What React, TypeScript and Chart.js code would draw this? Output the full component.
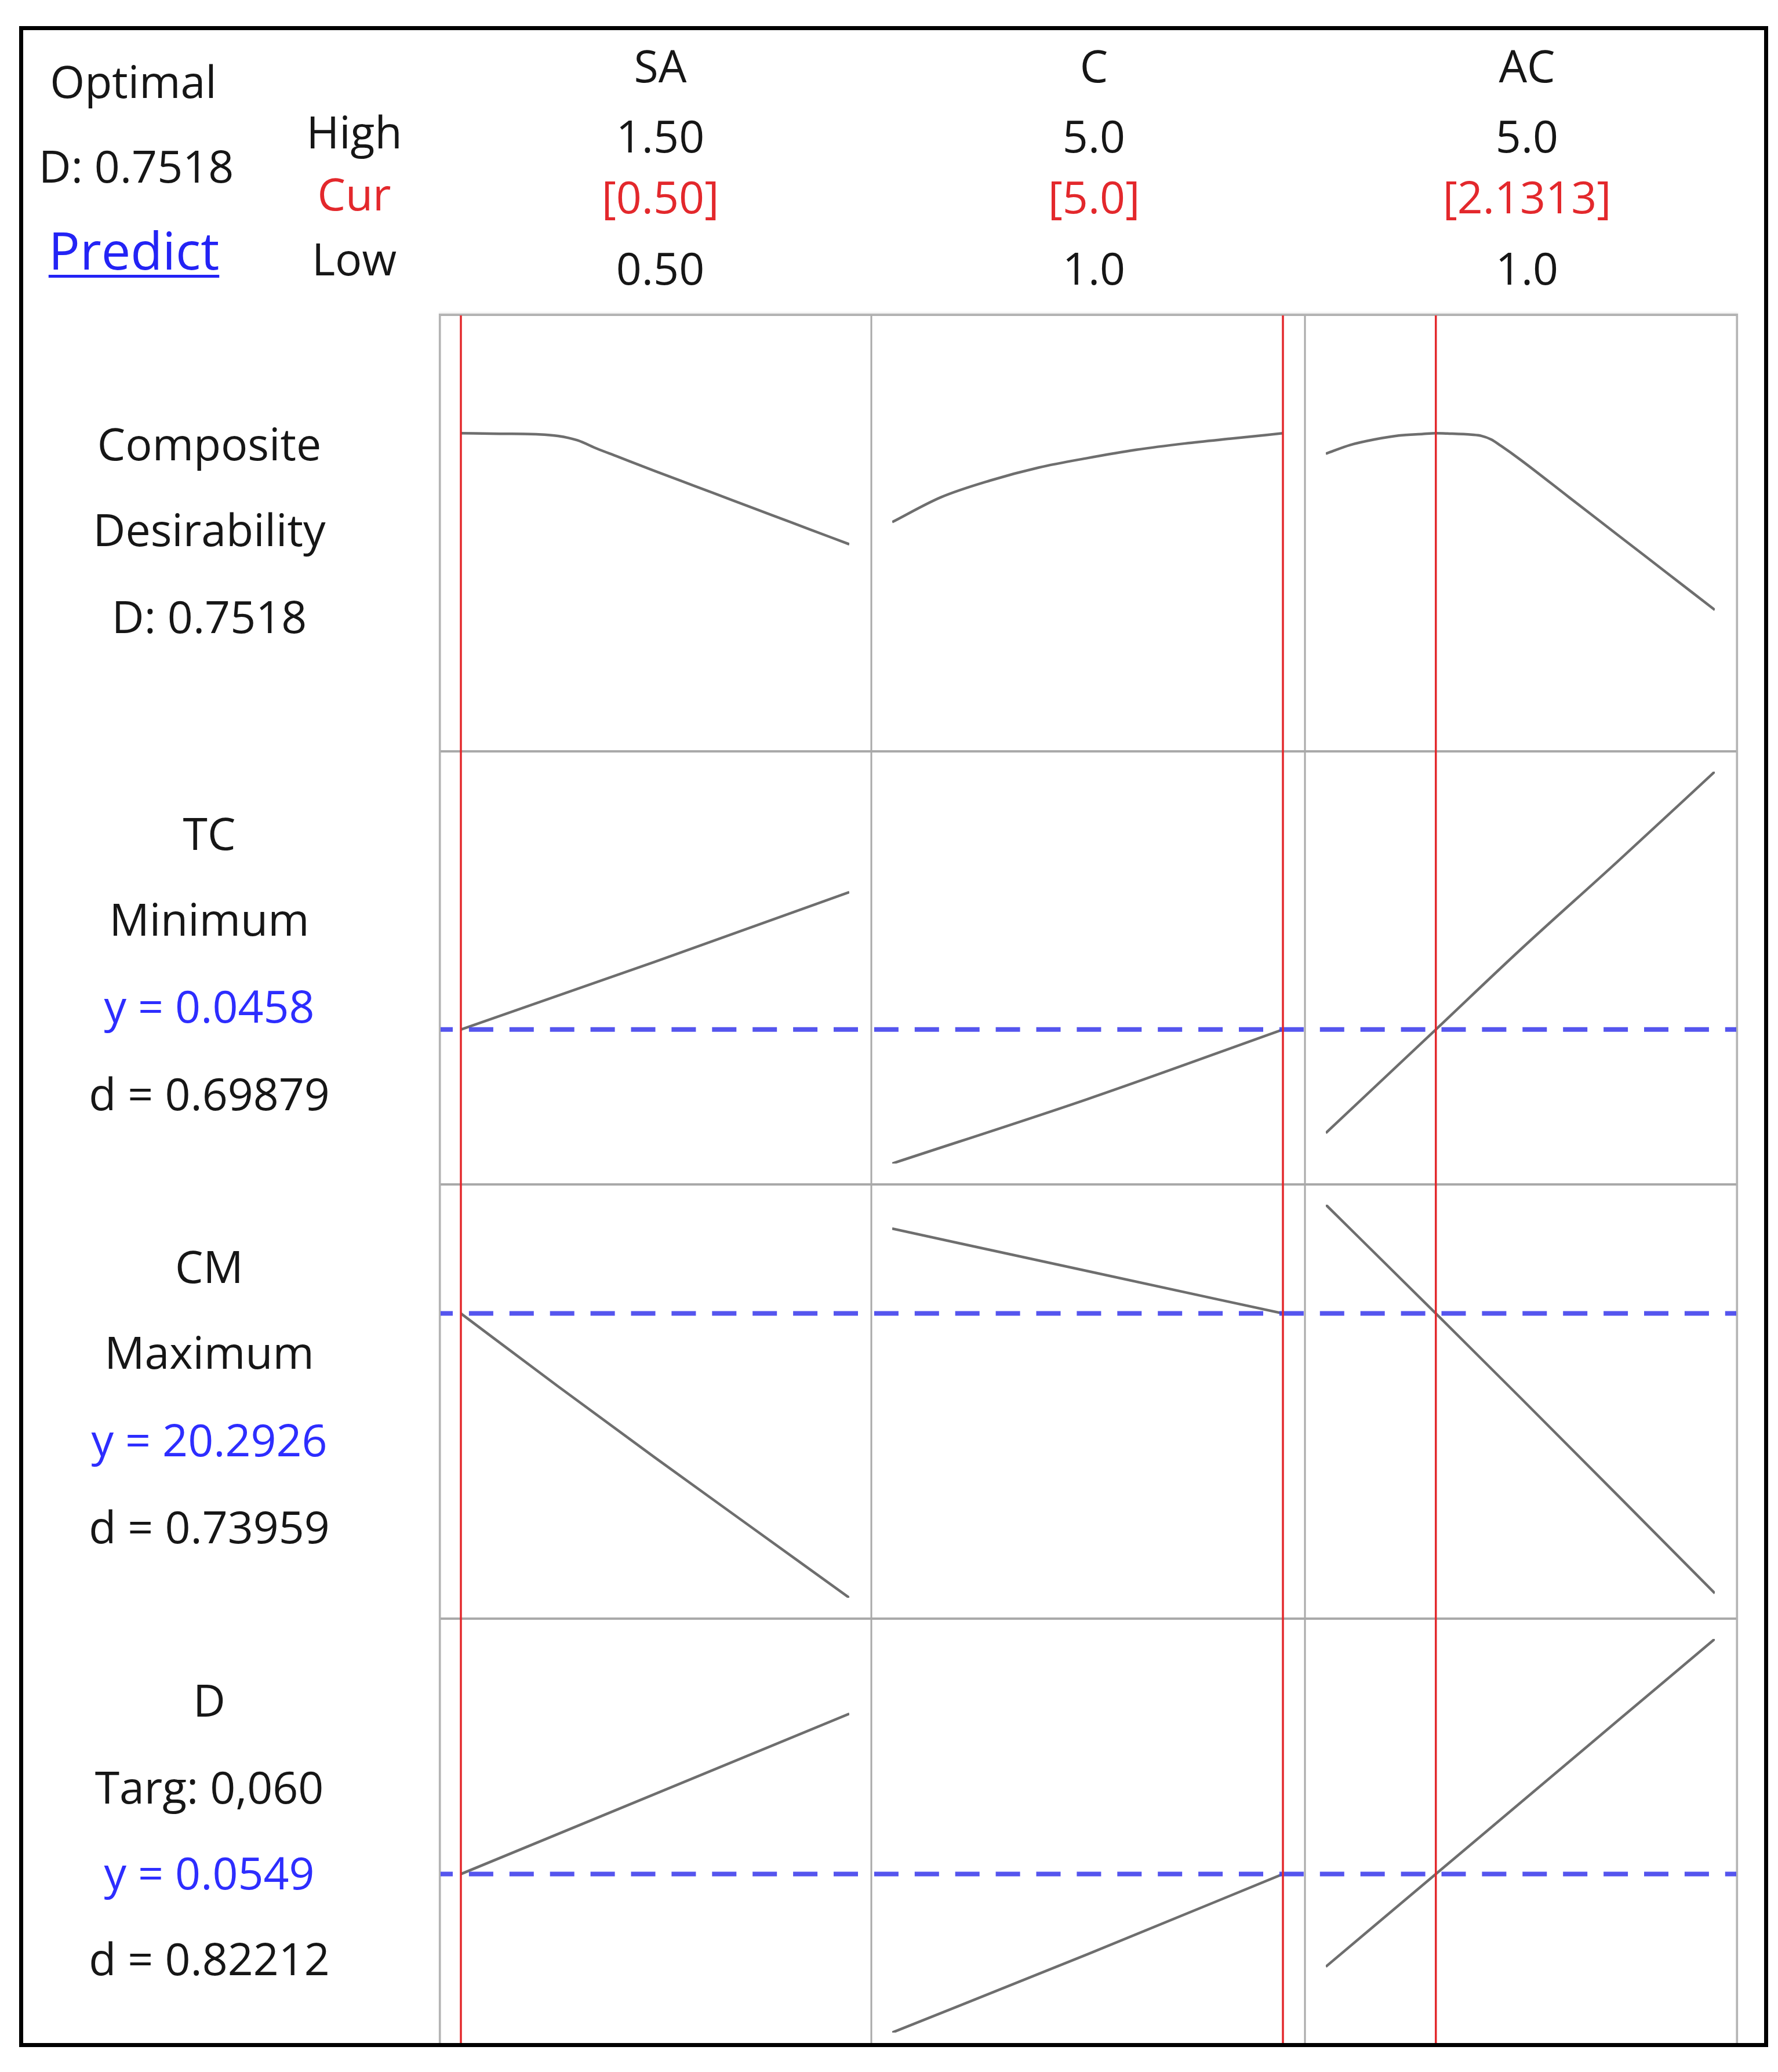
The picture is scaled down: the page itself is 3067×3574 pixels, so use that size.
import React, { useEffect, useRef } from 'react';
import { Chart, registerables } from 'chart.js';

Chart.register(...registerables);

// ---------- factor (column) data ----------
const factorNames = ['SA', 'C', 'AC'];
const factorHighLabels = ['1.50', '5.0', '5.0'];
const factorCurLabels = ['[0.50]', '[5.0]', '[2.1313]'];
const factorLowLabels = ['0.50', '1.0', '1.0'];
const factorLow = [0.5, 1.0, 1.0];
const factorHigh = [1.5, 5.0, 5.0];
const factorCurrent = [0.5, 5.0, 2.1313];

// ---------- Composite desirability row ----------
const compX_SA = [0.5, 0.6, 0.7, 0.75, 0.8, 0.85, 0.9, 1.0, 1.1, 1.2, 1.3, 1.4, 1.5];
const compY_SA = [0.7518, 0.7505, 0.749, 0.745, 0.734, 0.713, 0.694, 0.656, 0.619, 0.582, 0.545, 0.508, 0.471];
const compX_C = [1.0, 1.5, 2.0, 2.5, 3.0, 3.5, 4.0, 4.5, 5.0];
const compY_C = [0.527, 0.59, 0.632, 0.665, 0.689, 0.71, 0.726, 0.739, 0.7518];
const compX_AC = [1.0, 1.25, 1.5, 1.75, 2.0, 2.1313, 2.25, 2.5, 2.6, 2.7, 2.8, 3.0, 3.5, 4.0, 4.5, 5.0];
const compY_AC = [0.7, 0.722, 0.736, 0.746, 0.75, 0.7518, 0.751, 0.748, 0.745, 0.736, 0.72, 0.685, 0.59, 0.495, 0.4, 0.305];

// ---------- TC row ----------
const tcX_SA = [0.5, 1.0, 1.5];
const tcY_SA = [0.0458, 0.0498, 0.0539];
const tcX_C = [1.0, 3.0, 5.0];
const tcY_C = [0.0379, 0.0417, 0.0458];
const tcX_AC = [1.0, 2.1313, 3.0, 4.0, 5.0];
const tcY_AC = [0.0397, 0.0458, 0.0505, 0.0557, 0.061];

// ---------- CM row ----------
const cmX_SA = [0.5, 0.75, 1.0, 1.25, 1.5];
const cmY_SA = [20.2926, 18.68, 17.1, 15.55, 14.0];
const cmX_C = [1.0, 3.0, 5.0];
const cmY_C = [22.17, 21.23, 20.2926];
const cmX_AC = [1.0, 2.1313, 3.0, 4.0, 5.0];
const cmY_AC = [22.7, 20.2926, 18.43, 16.27, 14.1];

// ---------- D row ----------
const dX_SA = [0.5, 1.0, 1.5];
const dY_SA = [0.0549, 0.0594, 0.0639];
const dX_C = [1.0, 3.0, 5.0];
const dY_C = [0.046, 0.0504, 0.0549];
const dX_AC = [1.0, 2.1313, 3.0, 4.0, 5.0];
const dY_AC = [0.0497, 0.0549, 0.0589, 0.0635, 0.0681];

// current response values (blue dashed lines)
const responseCurrent = [null, 0.0458, 20.2926, 0.0549];

// row label texts
const rowLabels = [
  ['Composite', 'Desirability', 'D: 0.7518'],
  ['TC', 'Minimum', 'y = 0.0458', 'd = 0.69879'],
  ['CM', 'Maximum', 'y = 20.2926', 'd = 0.73959'],
  ['D', 'Targ: 0,060', 'y = 0.0549', 'd = 0.82212'],
];

const headerLeft = ['Optimal', 'D: 0.7518', 'Predict'];
const headerRowNames = ['High', 'Cur', 'Low'];

const rowCurves = [
  [[compX_SA, compY_SA], [compX_C, compY_C], [compX_AC, compY_AC]],
  [[tcX_SA, tcY_SA], [tcX_C, tcY_C], [tcX_AC, tcY_AC]],
  [[cmX_SA, cmY_SA], [cmX_C, cmY_C], [cmX_AC, cmY_AC]],
  [[dX_SA, dY_SA], [dX_C, dY_C], [dX_AC, dY_AC]],
];

// ---------- layout (pixels) ----------
const COL_EDGES = [759, 1503, 2251, 2996];
const ROW_EDGES = [543, 1296, 2043, 2792, 3542];
const CLIP_BOTTOM = 3524;
const PAD = { left: 36, right: 38, top: 35, bottom: 36 };
const FONT = "'Open Sans', 'Noto Sans', 'DejaVu Sans', sans-serif";
const FONT_SIZE = 77;
const TEXT_COLOR = '#161616';
const RED = '#e3282c';
const BLUE_TEXT = '#2d2dff';
const DASH = [42, 27.9];

function rowRange(r: number): [number, number] {
  if (r === 0) return [0, 1];
  let lo = Infinity;
  let hi = -Infinity;
  for (const [, ys] of rowCurves[r]) {
    for (const v of ys) {
      lo = Math.min(lo, v);
      hi = Math.max(hi, v);
    }
  }
  return [lo, hi];
}

function Cell({ r, c }: { r: number; c: number }) {
  const ref = useRef<HTMLCanvasElement | null>(null);
  const left = COL_EDGES[c];
  const top = ROW_EDGES[r];
  const width = COL_EDGES[c + 1] - COL_EDGES[c];
  const height = ROW_EDGES[r + 1] - ROW_EDGES[r];

  useEffect(() => {
    const canvas = ref.current;
    if (!canvas) return;
    const [xs, ys] = rowCurves[r][c];
    const [yMin, yMax] = rowRange(r);
    const xCur = factorCurrent[c];
    const yCur = responseCurrent[r];
    const dashOffset = left - COL_EDGES[0] + 20;

    const cellPlugin = {
      id: 'cellDecor',
      beforeDatasetsDraw(chart: any) {
        const { ctx, width: w, height: h } = chart;
        ctx.save();
        ctx.strokeStyle = '#a9a9a9';
        ctx.lineWidth = 3;
        ctx.beginPath();
        ctx.moveTo(0, 0);
        ctx.lineTo(0, h);
        ctx.moveTo(w, 0);
        ctx.lineTo(w, h);
        ctx.stroke();
        ctx.lineWidth = 4;
        ctx.beginPath();
        ctx.moveTo(0, 0);
        ctx.lineTo(w, 0);
        ctx.moveTo(0, h);
        ctx.lineTo(w, h);
        ctx.stroke();
        ctx.restore();
      },
      afterDatasetsDraw(chart: any) {
        const { ctx, width: w, height: h } = chart;
        const xs2 = chart.scales.x;
        const ys2 = chart.scales.y;
        ctx.save();
        if (yCur !== null && yCur !== undefined) {
          const py = ys2.getPixelForValue(yCur);
          ctx.strokeStyle = 'rgba(66,66,236,0.9)';
          ctx.lineWidth = 8;
          ctx.setLineDash(DASH);
          ctx.lineDashOffset = dashOffset;
          ctx.beginPath();
          ctx.moveTo(0, py);
          ctx.lineTo(w, py);
          ctx.stroke();
          ctx.setLineDash([]);
        }
        const px = xs2.getPixelForValue(xCur);
        ctx.strokeStyle = RED;
        ctx.lineWidth = 3.5;
        ctx.beginPath();
        ctx.moveTo(px, 0);
        ctx.lineTo(px, h);
        ctx.stroke();
        ctx.restore();
      },
    };

    const chart = new Chart(canvas, {
      type: 'line',
      data: {
        datasets: [
          {
            data: xs.map((x, i) => ({ x, y: ys[i] })),
            borderColor: '#6e6e6e',
            borderWidth: 4.5,
            pointRadius: 0,
            fill: false,
            cubicInterpolationMode: 'monotone',
          } as any,
        ],
      },
      options: {
        responsive: false,
        animation: false,
        devicePixelRatio: 1,
        events: [],
        layout: { padding: PAD },
        plugins: { legend: { display: false }, tooltip: { enabled: false } },
        scales: {
          x: { type: 'linear', min: factorLow[c], max: factorHigh[c], display: false },
          y: { type: 'linear', min: yMin, max: yMax, display: false },
        },
      } as any,
      plugins: [cellPlugin],
    });
    return () => chart.destroy();
  }, [r, c]);

  return (
    <canvas
      ref={ref}
      width={width}
      height={height}
      style={{ position: 'absolute', left, top, width, height }}
    />
  );
}

function Txt({
  x,
  y,
  children,
  color = TEXT_COLOR,
  underline = false,
  size = FONT_SIZE,
}: {
  x: number;
  y: number;
  children: React.ReactNode;
  color?: string;
  underline?: boolean;
  size?: number;
}) {
  return (
    <div
      style={{
        position: 'absolute',
        left: x,
        top: y,
        transform: 'translate(-50%, -50%)',
        fontFamily: FONT,
        fontSize: size,
        fontWeight: 500,
        lineHeight: 1,
        whiteSpace: 'nowrap',
        color,
        textDecoration: underline ? 'underline' : 'none',
        textDecorationThickness: underline ? 5 : undefined,
        textUnderlineOffset: underline ? 9 : undefined,
      }}
    >
      {children}
    </div>
  );
}

const HEADER_LEFT_POS = [
  [230, 139],
  [235, 285],
  [231, 430],
];
const HEADER_NAME_X = 611;
const HEADER_NAME_Y = [226, 333, 445];
const FACTOR_X = [1139, 1887, 2634];
const FACTOR_Y = [112, 233, 338, 461];
const LABEL_X = 361;
const LABEL_Y = [
  [764, 912, 1062],
  [1436, 1584, 1734, 1885],
  [2183, 2331, 2482, 2632],
  [2931, 3081, 3229, 3377],
];

export default function App() {
  const cells: React.ReactElement[] = [];
  for (let r = 0; r < 4; r++) {
    for (let c = 0; c < 3; c++) {
      cells.push(<Cell key={`${r}-${c}`} r={r} c={c} />);
    }
  }
  return (
    <div
      style={{
        position: 'absolute',
        left: 0,
        top: 0,
        width: 3067,
        height: 3574,
        background: '#ffffff',
        overflow: 'hidden',
      }}
    >
      {/* plot area (clipped at the frame bottom) */}
      <div
        style={{
          position: 'absolute',
          left: 0,
          top: 0,
          width: 3067,
          height: CLIP_BOTTOM,
          overflow: 'hidden',
        }}
      >
        {cells}
        <div
          style={{
            position: 'absolute',
            left: COL_EDGES[0] - 2,
            top: ROW_EDGES[0] - 2,
            width: COL_EDGES[3] - COL_EDGES[0] + 4,
            height: ROW_EDGES[4] - ROW_EDGES[0] + 4,
            border: '3px solid #b4b4b4',
            boxSizing: 'border-box',
            boxShadow: '0 -2px 3px rgba(0,0,0,0.08)',
          }}
        />
      </div>

      {/* header, left */}
      <Txt x={HEADER_LEFT_POS[0][0]} y={HEADER_LEFT_POS[0][1]}>{headerLeft[0]}</Txt>
      <Txt x={HEADER_LEFT_POS[1][0]} y={HEADER_LEFT_POS[1][1]}>{headerLeft[1]}</Txt>
      <Txt x={HEADER_LEFT_POS[2][0]} y={HEADER_LEFT_POS[2][1]} color="#2323f5" underline size={90}>
        {headerLeft[2]}
      </Txt>

      {headerRowNames.map((t, i) => (
        <Txt key={t} x={HEADER_NAME_X} y={HEADER_NAME_Y[i]} color={i === 1 ? RED : TEXT_COLOR}>
          {t}
        </Txt>
      ))}

      {factorNames.map((name, c) => (
        <React.Fragment key={name}>
          <Txt x={FACTOR_X[c]} y={FACTOR_Y[0]}>{name}</Txt>
          <Txt x={FACTOR_X[c]} y={FACTOR_Y[1]}>{factorHighLabels[c]}</Txt>
          <Txt x={FACTOR_X[c]} y={FACTOR_Y[2]} color={RED}>{factorCurLabels[c]}</Txt>
          <Txt x={FACTOR_X[c]} y={FACTOR_Y[3]}>{factorLowLabels[c]}</Txt>
        </React.Fragment>
      ))}

      {rowLabels.map((lines, r) =>
        lines.map((t, i) => (
          <Txt
            key={`${r}-${i}`}
            x={LABEL_X}
            y={LABEL_Y[r][i]}
            color={t.startsWith('y =') ? BLUE_TEXT : TEXT_COLOR}
          >
            {t}
          </Txt>
        ))
      )}

      {/* outer black frame */}
      <div
        style={{
          position: 'absolute',
          left: 33,
          top: 45,
          width: 3017,
          height: 3486,
          border: '7px solid #000',
          boxSizing: 'border-box',
          pointerEvents: 'none',
        }}
      />
    </div>
  );
}
